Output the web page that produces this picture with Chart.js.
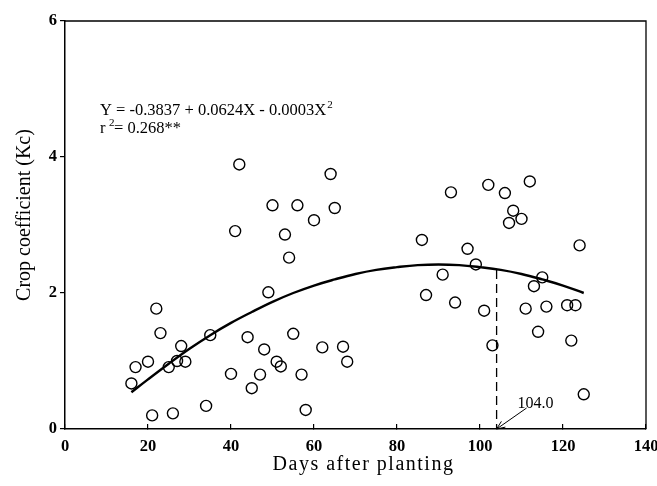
<!DOCTYPE html>
<html>
<head>
<meta charset="utf-8">
<script src="https://cdn.jsdelivr.net/npm/chart.js@4.4.0/dist/chart.umd.min.js"></script>
<style>
  html, body { margin: 0; padding: 0; background: #fff; }
  #wrap { width: 657px; height: 486px; }
</style>
</head>
<body>
<div id="wrap"><canvas id="chart"></canvas></div>
<script>
// observed crop coefficient vs days after planting
const days = [16, 17, 20, 21, 22, 23, 25, 26, 27, 28, 29, 34, 35, 40, 41, 42, 44, 45, 47, 48,
              49, 50, 51, 52, 53, 54, 55, 56, 57, 58, 60, 62, 64, 65, 67, 68, 86, 87, 91, 93,
              94, 97, 99, 101, 102, 103, 106, 107, 108, 110, 111, 112, 113, 114, 115, 116, 121, 122, 123, 124, 125];
const kc = [0.67, 0.91, 0.99, 0.20, 1.77, 1.41, 0.91, 0.23, 1.00, 1.22, 0.99, 0.34, 1.38, 0.81, 2.91, 3.89, 1.35, 0.60, 0.80, 1.17,
            2.01, 3.29, 0.99, 0.92, 2.86, 2.52, 1.40, 3.29, 0.80, 0.28, 3.07, 1.20, 3.75, 3.25, 1.21, 0.99, 2.78, 1.97, 2.27, 3.48,
            1.86, 2.65, 2.42, 1.74, 3.59, 1.23, 3.47, 3.03, 3.21, 3.09, 1.77, 3.64, 2.10, 1.43, 2.23, 1.80, 1.82, 1.30, 1.82, 2.70, 0.51];

// fitted curve as drawn
const curveDays = [16, 20, 25, 30, 35, 40, 45, 50, 55, 60, 65, 70, 75, 80, 85, 90, 95, 100, 105, 110, 115, 120, 125];
const curveKc = [0.54, 0.73, 0.96, 1.18, 1.38, 1.56, 1.72, 1.87, 2.00, 2.11, 2.20, 2.28, 2.34, 2.38, 2.41, 2.42, 2.41, 2.38, 2.34, 2.28, 2.20, 2.11, 2.00];

const markDay = [104, 104];
const markKc = [2.34, 0];
const markLabel = '104.0';

const xTicks = [0, 20, 40, 60, 80, 100, 120, 140];
const yTicks = [0, 2, 4, 6];

const equation = 'Y = -0.3837 + 0.0624X - 0.0003X';
const rSquared = '= 0.268**';

const serif = '"Liberation Serif", "Times New Roman", serif';

const overlay = {
    id: 'overlay',
    afterDraw(chart) {
        const { ctx, chartArea: a, scales: { x, y } } = chart;
        ctx.save();
        ctx.strokeStyle = '#000';
        ctx.fillStyle = '#000';

        // top and right frame
        ctx.lineWidth = 1.3;
        ctx.beginPath();
        ctx.moveTo(a.left, a.top);
        ctx.lineTo(a.right, a.top);
        ctx.lineTo(a.right, a.bottom);
        ctx.stroke();

        // equation
        ctx.textAlign = 'left';
        ctx.textBaseline = 'alphabetic';
        ctx.font = '16.5px ' + serif;
        ctx.fillText(equation, 100, 115);
        let w = ctx.measureText(equation).width;
        ctx.font = '11px ' + serif;
        ctx.fillText('2', 100 + w + 1, 108);

        ctx.font = '16.5px ' + serif;
        ctx.fillText('r', 100, 133);
        ctx.font = '11px ' + serif;
        ctx.fillText('2', 109, 126);
        ctx.font = '16.5px ' + serif;
        ctx.fillText(rSquared, 114, 133);

        // arrow to peak day
        const tipX = x.getPixelForValue(markDay[1]);
        const tipY = y.getPixelForValue(markKc[1]);
        const tailX = tipX + 30, tailY = tipY - 21;
        ctx.lineWidth = 1;
        ctx.beginPath();
        ctx.moveTo(tailX, tailY);
        ctx.lineTo(tipX, tipY);
        const ang = Math.atan2(tipY - tailY, tipX - tailX);
        ctx.moveTo(tipX, tipY);
        ctx.lineTo(tipX - 9 * Math.cos(ang - 0.4), tipY - 9 * Math.sin(ang - 0.4));
        ctx.moveTo(tipX, tipY);
        ctx.lineTo(tipX - 9 * Math.cos(ang + 0.4), tipY - 9 * Math.sin(ang + 0.4));
        ctx.stroke();
        ctx.font = '16px ' + serif;
        ctx.textAlign = 'center';
        ctx.fillText(markLabel, tipX + 39, tipY - 21);

        // axis titles
        ctx.font = '20px ' + serif;
        ctx.letterSpacing = '1.5px';
        ctx.fillText('Days after planting', (a.left + a.right) / 2 + 8, 470);
        ctx.letterSpacing = '0px';
        ctx.translate(30, 215);
        ctx.rotate(-Math.PI / 2);
        ctx.fillText('Crop coefficient (Kc)', 0, 0);
        ctx.restore();
    }
};

new Chart(document.getElementById('chart'), {
    type: 'scatter',
    plugins: [overlay],
    data: {
        datasets: [
            {
                label: 'Observed',
                data: days.map((d, i) => ({ x: d, y: kc[i] })),
                pointRadius: 5.5,
                pointBorderWidth: 1.4,
                borderColor: '#000',
                backgroundColor: 'rgba(0,0,0,0)',
                showLine: false
            },
            {
                label: 'Fit',
                data: curveDays.map((d, i) => ({ x: d, y: curveKc[i] })),
                showLine: true,
                borderColor: '#000',
                borderWidth: 2.4,
                pointRadius: 0,
                tension: 0.4
            },
            {
                label: 'Peak',
                data: markDay.map((d, i) => ({ x: d, y: markKc[i] })),
                showLine: true,
                borderColor: '#000',
                borderWidth: 1.3,
                borderDash: [9, 5],
                pointRadius: 0
            }
        ]
    },
    options: {
        responsive: true,
        maintainAspectRatio: false,
        animation: false,
        layout: { padding: { left: 0, right: 11, top: 21, bottom: 0 } },
        plugins: {
            legend: { display: false },
            tooltip: { enabled: false }
        },
        scales: {
            x: {
                type: 'linear',
                min: 0,
                max: 140,
                afterBuildTicks(s) { s.ticks = xTicks.map(v => ({ value: v })); },
                afterFit(s) { s.height = 57; s.paddingLeft = 0; s.paddingRight = 0; },
                ticks: { color: '#000', font: { family: serif, size: 16.5, weight: 'bold' }, padding: 13 },
                grid: { drawOnChartArea: false, tickLength: -5, color: '#000', lineWidth: 1.2 },
                border: { color: '#000', width: 1.5 }
            },
            y: {
                min: 0,
                max: 6,
                afterBuildTicks(s) { s.ticks = yTicks.map(v => ({ value: v })); },
                afterFit(s) { s.width = 65; s.paddingTop = 0; s.paddingBottom = 0; },
                ticks: { color: '#000', font: { family: serif, size: 16.5, weight: 'bold' }, padding: 3 },
                grid: { drawOnChartArea: false, tickLength: 5, color: '#000', lineWidth: 1.2 },
                border: { color: '#000', width: 1.5 }
            }
        }
    }
});
</script>
</body>
</html>
